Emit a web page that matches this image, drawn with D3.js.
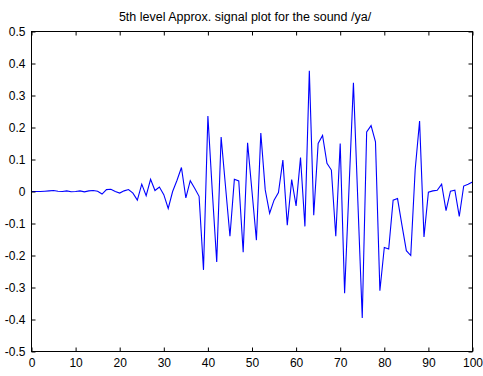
<!DOCTYPE html>
<html><head><meta charset="utf-8">
<script src="https://cdn.jsdelivr.net/npm/d3@7"></script>
<style>html,body{margin:0;padding:0;background:#fff;}svg{display:block;font-family:"Liberation Sans",Arial,sans-serif;}</style>
</head><body>
<script>
const title = "5th level Approx. signal plot for the sound /ya/";
const xTicks = [0,10,20,30,40,50,60,70,80,90,100];
const yTicks = [-0.5,-0.4,-0.3,-0.2,-0.1,0,0.1,0.2,0.3,0.4,0.5];
const yTickLabels = ["-0.5","-0.4","-0.3","-0.2","-0.1","0","0.1","0.2","0.3","0.4","0.5"];
const signal = [
 0,0,0,0.001,0.002,0.003,0.001,0,0.002,-0.001,
 0,0.002,-0.001,0.002,0.003,0.001,-0.008,0.006,0.007,0,
 -0.005,0.002,0.006,-0.005,-0.027,0.023,-0.013,0.038,0.003,0.014,
 -0.01,-0.053,0,0.035,0.075,-0.02,0.034,0.01,-0.015,-0.245,
 0.236,0,-0.22,0.17,0.015,-0.14,0.038,0.033,-0.19,0.152,
 0,-0.152,0.183,0.005,-0.068,-0.027,-0.003,0.098,-0.105,0.037,
 -0.045,0.106,-0.109,0.377,-0.074,0.15,0.175,0.088,0.067,-0.14,
 0.15,-0.318,0.01,0.34,-0.03,-0.395,0.186,0.206,0.155,-0.31,
 -0.175,-0.18,-0.027,-0.022,-0.105,-0.185,-0.2,0.068,0.22,-0.142,
 -0.002,0.002,0.004,0.023,-0.06,0.001,0.004,-0.078,0.017,0.023,
 0.03
];
const xIndex = signal.map((d,i)=>i);

const W=483,H=376;
const L=31.5,R=472.5,T=31.5,B=351.5;
const svg=d3.select("body").append("svg").attr("width",W).attr("height",H);
const x=d3.scaleLinear().domain([0,100]).range([L,R]);
const y=d3.scaleLinear().domain([-0.5,0.5]).range([B,T]);

// line
svg.append("path")
  .datum(xIndex)
  .attr("fill","none").attr("stroke","#0000ff").attr("stroke-width",1.1)
  .attr("d",d3.line().x(i=>x(i)).y(i=>y(signal[i])));

// box
svg.append("rect").attr("x",L).attr("y",T).attr("width",R-L).attr("height",B-T)
  .attr("fill","none").attr("stroke","#000").attr("stroke-width",1);

const tl=4;
const fmtY=d=>yTickLabels[yTicks.indexOf(d)];
svg.append("g").attr("transform",`translate(0,${B})`)
  .call(d3.axisBottom(x).tickValues(xTicks).tickSizeInner(-tl).tickSizeOuter(0).tickPadding(7))
  .call(g=>g.select(".domain").remove());
svg.append("g").attr("transform",`translate(0,${T})`)
  .call(d3.axisTop(x).tickValues(xTicks).tickSizeInner(-tl).tickSizeOuter(0).tickFormat(""))
  .call(g=>g.select(".domain").remove());
svg.append("g").attr("transform",`translate(${L},0)`)
  .call(d3.axisLeft(y).tickValues(yTicks).tickSizeInner(-tl).tickSizeOuter(0).tickPadding(6).tickFormat(fmtY))
  .call(g=>g.select(".domain").remove());
svg.append("g").attr("transform",`translate(${R},0)`)
  .call(d3.axisRight(y).tickValues(yTicks).tickSizeInner(-tl).tickSizeOuter(0).tickFormat(""))
  .call(g=>g.select(".domain").remove());
svg.selectAll(".tick text").attr("font-size",12).attr("fill","#000").attr("font-family","Liberation Sans, Arial, sans-serif");
svg.selectAll(".tick line").attr("stroke","#000");

svg.append("text").attr("x",(L+R)/2-7).attr("y",21).attr("text-anchor","middle")
  .attr("font-size",12.5).attr("fill","#000").text(title);
</script>
</body></html>
